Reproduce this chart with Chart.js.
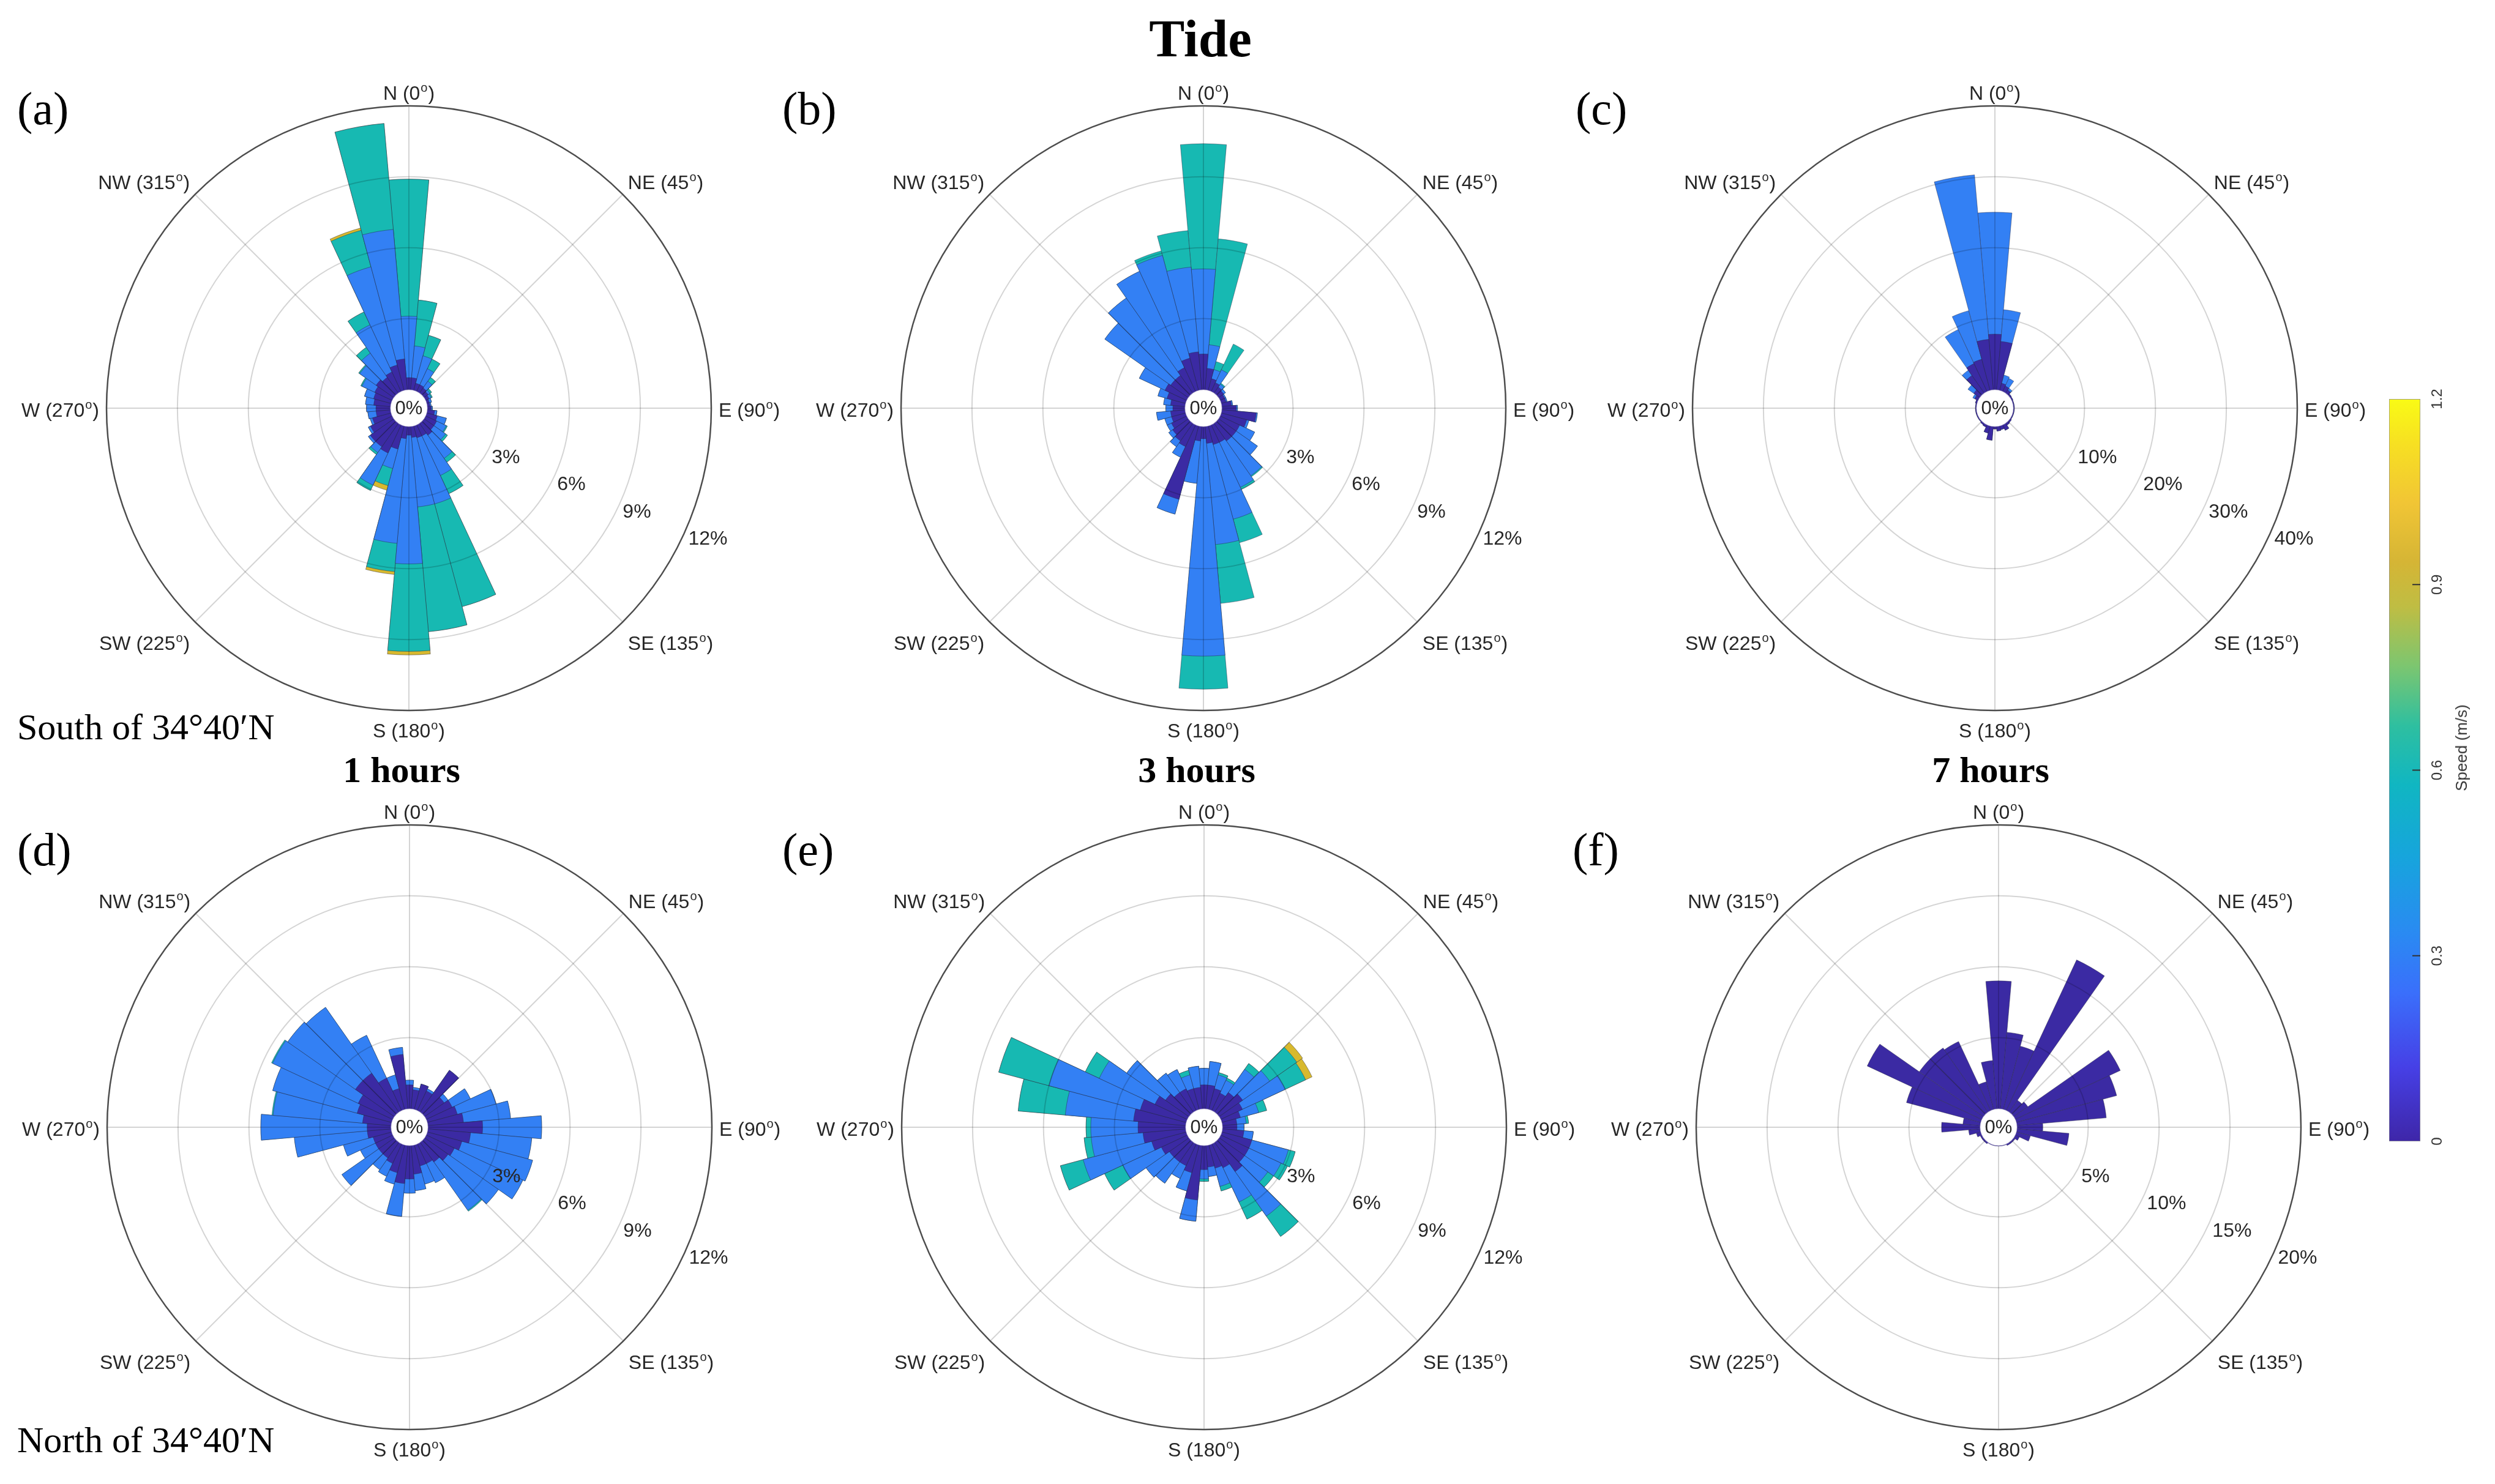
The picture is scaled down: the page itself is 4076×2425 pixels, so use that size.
<!DOCTYPE html>
<html lang="en">
<head>
<meta charset="UTF-8">
<title>Tide - current roses</title>
<script src="https://cdn.jsdelivr.net/npm/chart.js"></script>
<style>
    body {
        margin: 0;
        width: 4076px;
        height: 2425px;
        background: #fff;
        position: relative;
        overflow: hidden;
        font-family: "Liberation Sans", Arial, sans-serif;
    }
    canvas { position: absolute; }
    .txt {
        position: absolute;
        font-family: "Liberation Serif", "Times New Roman", serif;
        line-height: 1;
        white-space: nowrap;
        color: #000;
    }
    .bold { font-weight: bold; }
    .mid { transform: translateX(-50%); }
    .speed {
        position: absolute;
        left: 4021px;
        top: 1222px;
        font-size: 26px;
        color: #333;
        white-space: nowrap;
        line-height: 1;
        transform: translate(-50%, -50%) rotate(-90deg);
    }
</style>
</head>
<body>

<div class="txt bold mid" style="left:1961px; top:19px; font-size:87px;">Tide</div>

<div class="txt" style="left:28px; top:139px; font-size:76px;">(a)</div>
<div class="txt" style="left:1278px; top:139px; font-size:76px;">(b)</div>
<div class="txt" style="left:2574px; top:139px; font-size:76px;">(c)</div>
<div class="txt" style="left:28px; top:1350px; font-size:76px;">(d)</div>
<div class="txt" style="left:1278px; top:1350px; font-size:76px;">(e)</div>
<div class="txt" style="left:2569px; top:1350px; font-size:76px;">(f)</div>

<div class="txt" style="left:28px; top:1158px; font-size:60px;">South of 34°40′N</div>
<div class="txt" style="left:28px; top:2323px; font-size:60px;">North of 34°40′N</div>

<div class="txt bold mid" style="left:656px; top:1228px; font-size:60px;">1 hours</div>
<div class="txt bold mid" style="left:1955px; top:1228px; font-size:60px;">3 hours</div>
<div class="txt bold mid" style="left:3252px; top:1228px; font-size:60px;">7 hours</div>

<canvas id="roseA" width="1300" height="1160" style="left:18px; top:87px;"></canvas>
<canvas id="roseB" width="1300" height="1160" style="left:1316px; top:87px;"></canvas>
<canvas id="roseC" width="1300" height="1160" style="left:2609px; top:87px;"></canvas>
<canvas id="roseD" width="1300" height="1160" style="left:19px; top:1262px;"></canvas>
<canvas id="roseE" width="1300" height="1160" style="left:1317px; top:1262px;"></canvas>
<canvas id="roseF" width="1300" height="1160" style="left:2615px; top:1262px;"></canvas>

<canvas id="colorbar" width="196" height="1280" style="left:3880px; top:620px;"></canvas>
<div class="speed">Speed (m/s)</div>

<script>
// direction bins (deg, clockwise from north), 10 deg wide
const directions = [0, 10, 20, 30, 40, 50, 60, 70, 80, 90, 100, 110, 120, 130, 140, 150, 160, 170,
                    180, 190, 200, 210, 220, 230, 240, 250, 260, 270, 280, 290, 300, 310, 320, 330, 340, 350];
const speedBins = ['0-0.3 m/s', '0.3-0.6 m/s', '0.6-0.9 m/s', '0.9-1.2 m/s'];
const speedColors = ['#3b2aa3', '#3380f4', '#17b9b2', '#d8b92e'];

const compassNames = ['N', 'NE', 'E', 'SE', 'S', 'SW', 'W', 'NW'];
const compassDegrees = [0, 45, 90, 135, 180, 225, 270, 315];

const rings12 = [3, 6, 9, 12];
const rings40 = [10, 20, 30, 40];
const rings20 = [5, 10, 15, 20];

const cbTicks = [0, 0.3, 0.6, 0.9, 1.2];

// frequency (%) per direction for each speed class
// (a) south, 1 hours
const a1 = [0.5, 0.5, 0.3, 0.3, 0.25, 0.2, 0.15, 0.1, 0.1, 0.15, 0.3, 0.45, 0.5, 0.5, 0.6, 0.5, 0.5, 0.45,
            0.35, 0.5, 1.0, 1.3, 1.2, 1.2, 1.0, 0.8, 0.6, 0.6, 0.7, 0.75, 0.8, 0.9, 0.8, 0.9, 1.1, 1.3];
const a2 = [2.6, 1.35, 1.2, 0.75, 0.35, 0.1, 0.1, 0.1, 0.05, 0.05, 0.1, 0.4, 0.45, 0.6, 1.2, 1.85, 2.9, 2.95,
            5.45, 4.45, 0.85, 1.5, 0.3, 0.1, 0.1, 0.1, 0.35, 0.4, 0.35, 0.4, 0.6, 0.85, 1.25, 2.2, 4.3, 5.5];
const a3 = [5.8, 1.95, 0.9, 0.45, 0.2, 0.08, 0.05, 0, 0, 0, 0, 0, 0.05, 0.1, 0.2, 0.85, 4.5, 5.3,
            3.7, 1.2, 0.75, 0.25, 0.1, 0, 0, 0, 0, 0, 0, 0, 0.05, 0.05, 0.3, 0.6, 1.6, 4.5];
const a4 = [0, 0, 0, 0, 0, 0, 0, 0, 0, 0, 0, 0, 0, 0, 0, 0, 0, 0,
            0.15, 0.12, 0.2, 0, 0, 0, 0, 0, 0, 0, 0, 0, 0, 0, 0, 0, 0.1, 0];

// (b) south, 3 hours
const b1 = [1.5, 0.9, 0.5, 0.4, 0.3, 0.25, 0.2, 0.2, 0.4, 0.6, 1.45, 1.1, 0.9, 0.9, 0.9, 0.8, 0.8, 0.7,
            0.5, 0.6, 3.2, 1.0, 0.9, 0.8, 0.7, 0.6, 0.6, 0.5, 0.6, 0.8, 1.0, 0.9, 0.9, 1.1, 1.4, 1.6];
const b2 = [3.6, 1.0, 0.4, 0.6, 0.15, 0.1, 0.05, 0.05, 0.05, 0.05, 0.05, 0.1, 0.7, 1.1, 1.8, 2.1, 3.27, 4.3,
            9.2, 1.8, 0.65, 0.5, 0.3, 0.2, 0.2, 0.3, 0.6, 0.3, 0.3, 0.4, 1.2, 3.4, 4.0, 4.5, 4.5, 3.6];
const b3 = [5.3, 4.5, 0.35, 1.2, 0.05, 0, 0, 0, 0, 0, 0, 0, 0, 0, 0.05, 0.1, 1.03, 2.5,
            1.4, 0, 0, 0, 0, 0, 0, 0, 0, 0, 0, 0, 0, 0, 0, 0, 0.2, 1.55];

// (c) south, 7 hours
const c1 = [7.8, 6.8, 1.0, 0.8, 0.5, 0.2, 0.15, 0.1, 0.1, 0.1, 0.1, 0.1, 0.1, 0.2, 0.3, 0.8, 0.5, 0.6,
            0.3, 1.9, 1.0, 0.3, 0.2, 0.1, 0.1, 0.1, 0.1, 0.1, 0.1, 0.2, 0.5, 1.0, 3.0, 4.3, 4.5, 7.1];
const c2 = [17.2, 4.5, 1.2, 1.2, 0.3, 0, 0, 0, 0, 0, 0, 0, 0, 0, 0, 0, 0, 0,
            0, 0, 0, 0, 0, 0, 0, 0, 0, 0, 0, 0, 0.3, 1.0, 0.9, 5.3, 7.1, 23.3];

// (d) north, 1 hours
const d1 = [1.0, 0.8, 1.1, 0.9, 2.15, 1.0, 1.2, 1.3, 1.5, 2.3, 1.8, 1.5, 1.3, 1.2, 1.0, 0.9, 0.9, 1.2,
            1.4, 1.6, 1.2, 0.9, 0.8, 0.8, 0.8, 0.8, 1.0, 1.0, 1.2, 1.5, 1.6, 2.0, 2.0, 1.5, 0.9, 2.3];
const d2 = [0.2, 0.1, 0, 0.1, 0, 0.2, 0.85, 1.7, 2.0, 2.5, 2.6, 3.1, 3.2, 2.6, 2.5, 0.9, 0.8, 0.7,
            0.6, 1.4, 0.5, 0.6, 0.6, 1.9, 0.7, 1.3, 3.1, 4.5, 3.8, 3.7, 4.0, 3.5, 3.4, 2.0, 0.6, 0.3];
const d3 = [0, 0, 0, 0, 0, 0, 0, 0, 0, 0, 0, 0, 0, 0, 0.05, 0, 0, 0,
            0, 0, 0, 0, 0, 0, 0, 0, 0, 0, 0.05, 0, 0.05, 0, 0, 0, 0, 0];

// (e) north, 3 hours
const e1 = [1.0, 1.0, 0.9, 0.8, 1.0, 1.2, 1.0, 0.8, 0.6, 0.6, 0.9, 1.3, 1.3, 1.3, 1.5, 1.1, 1.0, 0.9,
            1.0, 2.3, 1.2, 1.0, 1.0, 1.0, 1.2, 1.5, 1.8, 2.0, 2.2, 2.0, 1.5, 1.2, 1.0, 1.0, 0.9, 0.9];
const e2 = [0.7, 1.0, 0.6, 0.6, 1.2, 1.4, 2.0, 0.8, 0.4, 0.3, 0.4, 1.6, 1.5, 1.2, 2.3, 1.6, 0.8, 0.4,
            0.4, 0.9, 0.8, 0.6, 1.1, 1.2, 1.8, 3.0, 2.2, 2.0, 2.9, 4.0, 2.6, 2.0, 1.0, 0.9, 0.6, 0.9];
const e3 = [0, 0, 0.1, 0.1, 0.3, 1.4, 0.95, 0.35, 0.1, 0, 0, 0.3, 0.3, 0.3, 1.05, 0.8, 0.2, 0,
            0.1, 0, 0, 0, 0, 0, 0.85, 1.0, 0.3, 0.2, 2.0, 2.2, 0.65, 0, 0, 0, 0.2, 0];
const e4 = [0, 0, 0, 0, 0, 0.3, 0.3, 0, 0, 0, 0, 0, 0, 0, 0, 0, 0, 0,
            0, 0, 0, 0, 0, 0, 0, 0, 0, 0, 0, 0, 0, 0, 0, 0, 0, 0];

// (f) north, 7 hours
const f1 = [9.0, 5.4, 4.6, 11.7, 1.0, 1.2, 8.15, 7.3, 6.3, 1.8, 3.66, 1.0, 0.3, 0.1, 0.1, 0.1, 0, 0,
            0, 0, 0, 0, 0.1, 0.1, 0.1, 0.3, 0.8, 2.7, 1.2, 5.4, 8.9, 5.5, 5.5, 5.35, 2.0, 3.4];

// parula-like colormap stops for the colorbar
const parulaStops = [
    [0.00, '#3e26a8'], [0.10, '#4640e6'], [0.20, '#3a6ffb'], [0.28, '#2a8af2'],
    [0.38, '#17a4dd'], [0.48, '#10b6c2'], [0.56, '#2ebfa0'], [0.64, '#7cc670'],
    [0.72, '#bfbd43'], [0.78, '#d5b535'], [0.86, '#f1c535'], [0.94, '#f7e022'], [1.00, '#f9fb15']
];

Chart.defaults.font.family = '"Liberation Sans", Arial, sans-serif';

const LABEL_FONT = '32px "Liberation Sans", Arial, sans-serif';
const SUP_FONT = '20px "Liberation Sans", Arial, sans-serif';
const TEXT_COLOR = '#262626';
const GRID_COLOR = 'rgba(0, 0, 0, 0.17)';

// stacked (cumulative) series, lowest speed first
function cumulate(series) {
    const out = [];
    let run = series[0].map(() => 0);
    series.forEach(s => {
        run = run.map((v, i) => +(v + s[i]).toFixed(3));
        out.push(run);
    });
    return out;
}

function drawDegLabel(ctx, name, deg, x, y, align) {
    const main = name + ' (' + deg;
    ctx.font = LABEL_FONT;
    const w1 = ctx.measureText(main).width;
    const w3 = ctx.measureText(')').width;
    ctx.font = SUP_FONT;
    const w2 = ctx.measureText('o').width;
    const total = w1 + w2 + w3 + 2;
    const x0 = align === 'left' ? x : align === 'right' ? x - total : x - total / 2;
    ctx.textAlign = 'left';
    ctx.textBaseline = 'alphabetic';
    ctx.fillStyle = TEXT_COLOR;
    ctx.font = LABEL_FONT;
    ctx.fillText(main, x0, y);
    ctx.font = SUP_FONT;
    ctx.fillText('o', x0 + w1 + 1, y - 13);
    ctx.font = LABEL_FONT;
    ctx.fillText(')', x0 + w1 + w2 + 2, y);
}

const roseDecor = {
    id: 'roseDecor',
    afterDatasetsDraw(chart) {
        const s = chart.scales.r, ctx = chart.ctx;
        const R = s.getDistanceFromCenterForValue(s.max);
        ctx.save();
        ctx.strokeStyle = GRID_COLOR;
        ctx.lineWidth = 2;
        compassDegrees.forEach(d => {
            const a = (d - 90) * Math.PI / 180;
            ctx.beginPath();
            ctx.moveTo(s.xCenter, s.yCenter);
            ctx.lineTo(s.xCenter + R * Math.cos(a), s.yCenter + R * Math.sin(a));
            ctx.stroke();
        });
        ctx.restore();
    },
    afterDraw(chart) {
        const s = chart.scales.r, ctx = chart.ctx;
        const cx = s.xCenter, cy = s.yCenter;
        const R = s.getDistanceFromCenterForValue(s.max);
        const r0 = s.getDistanceFromCenterForValue(0);
        ctx.save();

        // calm circle in the middle
        ctx.beginPath();
        ctx.arc(cx, cy, r0, 0, Math.PI * 2);
        ctx.fillStyle = '#fff';
        ctx.fill();
        ctx.strokeStyle = 'rgba(60, 45, 140, 0.55)';
        ctx.lineWidth = 1.5;
        ctx.stroke();
        ctx.fillStyle = TEXT_COLOR;
        ctx.font = '31px "Liberation Sans", Arial, sans-serif';
        ctx.textAlign = 'center';
        ctx.textBaseline = 'middle';
        ctx.fillText('0%', cx, cy + 1);

        // compass labels
        const d = R + 12;
        compassDegrees.forEach((deg, k) => {
            const t = deg * Math.PI / 180;
            const sn = Math.sin(t), cs = Math.cos(t);
            const align = Math.abs(sn) < 0.1 ? 'center' : (sn > 0 ? 'left' : 'right');
            const x = cx + d * sn;
            let y;
            if (cs > 0.9) y = cy - R - 10;
            else if (cs < -0.9) y = cy + R + 44;
            else if (Math.abs(cs) < 0.1) y = cy + 14;
            else if (cs > 0) y = cy - d * cs;
            else y = cy - d * cs + 37;
            drawDegLabel(ctx, compassNames[k], deg, x, y, align);
        });

        // radial tick labels along 112.5 deg
        const ta = 112.5 * Math.PI / 180;
        ctx.font = LABEL_FONT;
        ctx.textAlign = 'left';
        ctx.textBaseline = 'alphabetic';
        ctx.fillStyle = TEXT_COLOR;
        chart.options.ringValues.forEach(v => {
            const r = s.getDistanceFromCenterForValue(v);
            ctx.fillText(v + '%', cx + r * Math.sin(ta), cy - r * Math.cos(ta) + 34);
        });
        ctx.restore();
    }
};

function makeRose(id, series, rings) {
    const rMax = rings[rings.length - 1];
    const step = rings[1] - rings[0];
    const rMin = -step * 30.5 / 115.5;
    const stacked = cumulate(series);

    new Chart(document.getElementById(id), {
        type: 'polarArea',
        data: {
            labels: directions.map(d => d + '°'),
            datasets: stacked.map((data, k) => ({
                label: speedBins[k],
                data: data,
                backgroundColor: speedColors[k],
                borderColor: 'rgba(35, 35, 60, 0.45)',
                borderWidth: 1
            }))
        },
        options: {
            responsive: false,
            animation: false,
            ringValues: rings,
            layout: { padding: { left: 156, right: 156, top: 86, bottom: 86 } },
            plugins: { legend: { display: false }, tooltip: { enabled: false } },
            scales: {
                r: {
                    min: rMin,
                    max: rMax,
                    startAngle: -5,
                    afterBuildTicks: scale => {
                        scale.ticks = [rMin].concat(rings).map(v => ({ value: v }));
                    },
                    ticks: { display: false, z: 1 },
                    grid: {
                        z: 1,
                        circular: true,
                        color: c => c.tick.value <= 0 ? 'rgba(0,0,0,0)' : (c.tick.value === rMax ? '#4d4d4d' : GRID_COLOR),
                        lineWidth: c => c.tick.value === rMax ? 2.5 : 2
                    },
                    angleLines: { display: false },
                    pointLabels: { display: false }
                }
            }
        },
        plugins: [roseDecor]
    });
}

makeRose('roseA', [a1, a2, a3, a4], rings12);
makeRose('roseB', [b1, b2, b3], rings12);
makeRose('roseC', [c1, c2], rings40);
makeRose('roseD', [d1, d2, d3], rings12);
makeRose('roseE', [e1, e2, e3, e4], rings12);
makeRose('roseF', [f1], rings20);

// colorbar
const cbInnerTicks = {
    id: 'cbInnerTicks',
    afterDatasetsDraw(chart) {
        const y = chart.scales.y, a = chart.chartArea, ctx = chart.ctx;
        ctx.save();
        ctx.strokeStyle = '#333';
        ctx.lineWidth = 2;
        cbTicks.slice(1, -1).forEach(v => {
            const py = y.getPixelForValue(v);
            ctx.beginPath();
            ctx.moveTo(a.right - 13, py);
            ctx.lineTo(a.right, py);
            ctx.stroke();
        });
        ctx.restore();
    }
};

new Chart(document.getElementById('colorbar'), {
    type: 'bar',
    data: {
        labels: ['speed'],
        datasets: [{
            data: [cbTicks[cbTicks.length - 1]],
            backgroundColor: c => {
                const area = c.chart.chartArea;
                if (!area) return parulaStops[0][1];
                const g = c.chart.ctx.createLinearGradient(0, area.bottom, 0, area.top);
                parulaStops.forEach(s => g.addColorStop(s[0], s[1]));
                return g;
            },
            borderColor: '#8a8a8a',
            borderWidth: 1,
            borderSkipped: false,
            barPercentage: 1,
            categoryPercentage: 1
        }]
    },
    options: {
        responsive: false,
        animation: false,
        layout: { padding: { left: 23, right: 60, top: 32, bottom: 35 } },
        plugins: { legend: { display: false }, tooltip: { enabled: false } },
        scales: {
            x: { display: false },
            y: {
                position: 'right',
                min: 0,
                max: 1.2,
                afterFit: s => { s.width = 62; },
                afterBuildTicks: s => { s.ticks = cbTicks.map(v => ({ value: v })); },
                border: { display: false },
                grid: { display: false, drawTicks: false },
                ticks: {
                    minRotation: 90,
                    maxRotation: 90,
                    crossAlign: 'center',
                    padding: 12,
                    color: '#333',
                    font: { size: 24 },
                    callback: v => v === 0 ? '0' : (+v).toFixed(1)
                }
            }
        }
    },
    plugins: [cbInnerTicks]
});
</script>

</body>
</html>
